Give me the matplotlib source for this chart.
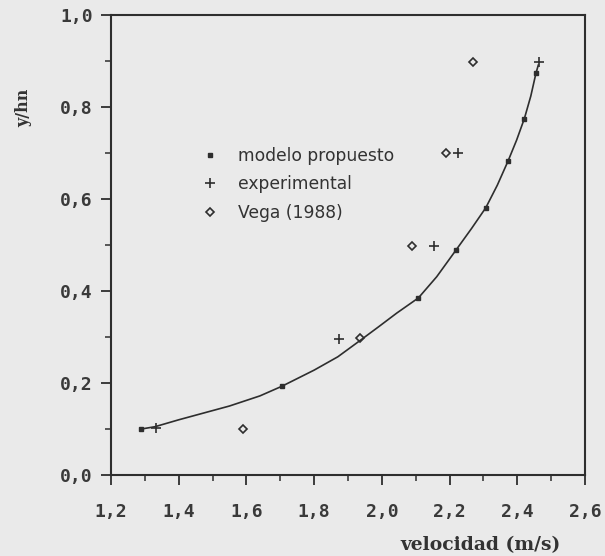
import matplotlib
matplotlib.use("Agg")
import matplotlib.pyplot as plt
from matplotlib.ticker import MultipleLocator, FuncFormatter

# ---- data ----
modelo_x = [1.29, 1.705, 2.108, 2.219, 2.307, 2.373, 2.421, 2.455]
modelo_y = [0.10, 0.193, 0.385, 0.489, 0.581, 0.683, 0.775, 0.873]

curva_x = [1.29, 1.33, 1.40, 1.55, 1.64, 1.705, 1.80, 1.87, 1.935, 1.99, 2.044,
           2.108, 2.162, 2.219, 2.265, 2.307, 2.341, 2.373, 2.398, 2.421,
           2.44, 2.455, 2.462]
curva_y = [0.10, 0.105, 0.12, 0.15, 0.172, 0.193, 0.228, 0.257, 0.292, 0.322, 0.352,
           0.385, 0.431, 0.489, 0.536, 0.581, 0.630, 0.683, 0.728, 0.775,
           0.824, 0.873, 0.891]

exp_x = [1.332, 1.873, 2.153, 2.226, 2.465]
exp_y = [0.102, 0.295, 0.497, 0.70, 0.898]

vega_x = [1.591, 1.935, 2.09, 2.189, 2.268]
vega_y = [0.099, 0.298, 0.498, 0.70, 0.898]

labels = ["modelo propuesto", "experimental", "Vega (1988)"]
xlabel = "velocidad (m/s)"
ylabel = "y/hn"

bg = "#eaeaea"
ink = "#2e2e2e"

fig = plt.figure(figsize=(6.05, 5.56), dpi=100, facecolor=bg)
ax = fig.add_axes([111/605, 1-475/556, 474/605, 460/556], facecolor=bg)

ax.plot(curva_x, curva_y, color=ink, lw=1.2, zorder=2, solid_joinstyle="round")
h1, = ax.plot(modelo_x, modelo_y, ls="none", marker="s", ms=3.2, color=ink,
              label=labels[0], zorder=3)
h2, = ax.plot(exp_x, exp_y, ls="none", marker="+", ms=7, mew=1.2, color=ink,
              label=labels[1], zorder=3)
h3, = ax.plot(vega_x, vega_y, ls="none", marker="D", ms=4.5, mew=1.2, mfc="none",
              mec=ink, label=labels[2], zorder=3)

ax.set_xlim(1.2, 2.6)
ax.set_ylim(0.0, 1.0)

fmt = FuncFormatter(lambda v, p: f"{v:.1f}".replace(".", ","))
ax.xaxis.set_major_locator(MultipleLocator(0.2))
ax.xaxis.set_minor_locator(MultipleLocator(0.1))
ax.yaxis.set_major_locator(MultipleLocator(0.2))
ax.yaxis.set_minor_locator(MultipleLocator(0.1))
ax.xaxis.set_major_formatter(fmt)
ax.yaxis.set_major_formatter(fmt)

ax.tick_params(axis="both", which="major", direction="out", length=7, width=1.3,
               color=ink, labelcolor="#3a3a3a")
ax.tick_params(axis="both", which="minor", direction="out", length=4, width=1.1,
               color=ink)
ax.tick_params(axis="x", which="major", pad=13)
ax.tick_params(axis="y", which="major", pad=6)
for lab in ax.get_xticklabels() + ax.get_yticklabels():
    lab.set_fontfamily("DejaVu Sans Mono")
    lab.set_fontweight("bold")
    lab.set_fontsize(13)

for s in ax.spines.values():
    s.set_color(ink)
    s.set_linewidth(1.5)

fig.text(481/605, 1-545/556, xlabel, ha="center", va="center",
         family="DejaVu Serif", weight="bold", size=13.5, color="#333333")
fig.text(24/605, 1-108/556, ylabel, ha="center", va="center", rotation=90,
         family="DejaVu Serif", weight="bold", size=11.5, color="#333333")

leg = ax.legend(handles=[h1, h2, h3], loc="upper left",
                bbox_to_anchor=((201.7-111)/474, (475-147)/460),
                frameon=False, handlelength=1.0, handletextpad=1.1,
                labelspacing=0.6, borderpad=0, borderaxespad=0,
                prop=dict(family="DejaVu Sans", size=12.3))
for t in leg.get_texts():
    t.set_color("#333333")

fig.savefig("out.png", dpi=100, facecolor=bg)
